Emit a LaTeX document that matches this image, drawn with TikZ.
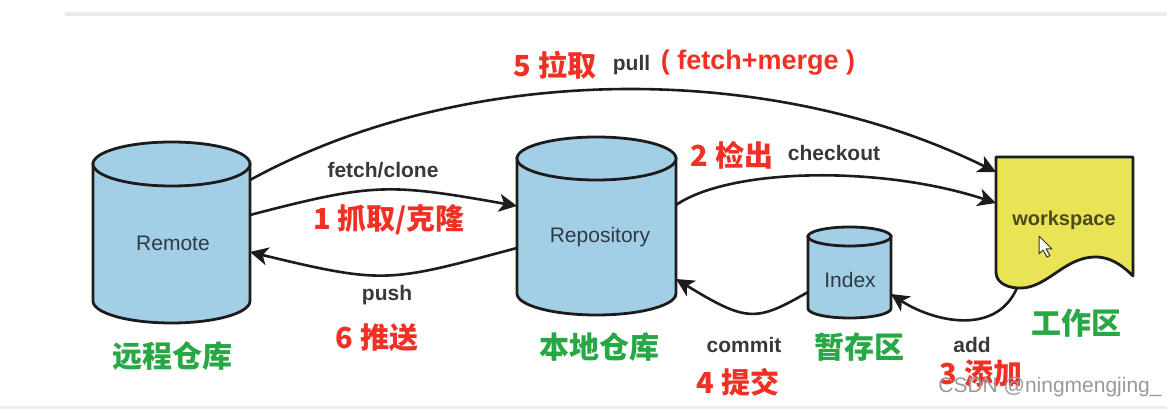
\documentclass[tikz,border=0pt]{standalone}
\usepackage{fontspec}
\setmainfont{Liberation Sans}
\newfontfamily\cjk{Noto Sans CJK SC}
\newfontfamily\arialf{Liberation Sans}
\usetikzlibrary{arrows.meta}
\definecolor{cylblue}{HTML}{A3CFE6}
\definecolor{lineblack}{HTML}{1C1C1C}
\definecolor{lblred}{HTML}{EE3124}
\definecolor{lblgreen}{HTML}{27A844}
\definecolor{opgray}{HTML}{383838}
\definecolor{boxtext}{HTML}{2E3A45}
\definecolor{wsyellow}{HTML}{E9E455}
\definecolor{wstext}{HTML}{4B4A1E}
\newcommand\dbcyl[5]{%
  \filldraw[cylstyle] (#1-#2,#3) -- (#1-#2,#4) arc[start angle=180,end angle=0,x radius=#2,y radius=#5] -- (#1+#2,#3) -- cycle;
  \filldraw[cylstyle] (#1,#3) ellipse[x radius=#2,y radius=#5];}
\tikzset{
  cylstyle/.style={fill=cylblue, draw=lineblack, line width=1.4pt},
  anchorbox/.style={inner sep=0pt, outer sep=0pt},
  conn/.style={draw=lineblack, line width=1.3pt, -{Stealth[length=9pt,width=9pt,inset=2.5pt]}},
  redlbl/.style={text=lblred, font=\cjk\bfseries\fontsize{14.5}{16}\selectfont},
  greenlbl/.style={text=lblgreen, font=\cjk\bfseries\fontsize{15}{17}\selectfont},
  oplbl/.style={text=opgray, font=\arialf\bfseries\fontsize{10.5}{12}\selectfont},
  boxlbl/.style={text=boxtext, font=\arialf\fontsize{10.5}{12}\selectfont},
}
\begin{document}
\begin{tikzpicture}[x=0.5pt,y=-0.5pt]
\useasboundingbox (0,0) rectangle (1167,410);
% screenshot frame lines
\draw[draw=black!8, line width=2pt] (65,14) -- (1167,14);
\draw[draw=black!7, line width=1.5pt] (0,408) -- (1167,408);

% anchor boxes
\node[anchorbox, minimum width=78.5pt, minimum height=90.5pt] (remote) at (171.5,232.5) {};
\node[anchorbox, minimum width=79.5pt, minimum height=89.5pt] (repo) at (596.5,226.5) {};
\node[anchorbox, minimum width=41.5pt, minimum height=45.5pt] (index) at (849.5,272.5) {};
\node[anchorbox, minimum width=68.5pt, minimum height=65.5pt] (ws) at (1064.5,222.5) {};

% cylinders
\dbcyl{171.5}{78.5}{164}{301}{22}
\dbcyl{596.5}{79.5}{158.5}{293.5}{21.5}
\dbcyl{849.5}{41.5}{236.5}{308.5}{9.5}

% workspace document
\filldraw[fill=wsyellow, draw=lineblack, line width=1.4pt, line join=round]
  (996,157) -- (1133,157) -- (1133,276)
  .. controls (1115,258) and (1100,254) .. (1082,259)
  .. controls (1058,266) and (1042,290) .. (1017,288)
  .. controls (1004,287) and (996,281) .. (996,272) -- cycle;
% mouse cursor
\filldraw[fill=white, draw=black!80, line width=0.5pt, line join=round]
  (1039,236) -- (1039,254) -- (1043,250) -- (1047,257) -- (1050,255.5) -- (1046,249) -- (1052,249) -- cycle;

% box texts
\node[boxlbl] (remotetxt) at (173,243) {Remote};
\node[boxlbl] (repotxt) at (600,237) {Repository};
\node[boxlbl] (indextxt) at (850,280) {Index};
\node[text=wstext, font=\arialf\bfseries\fontsize{10}{12}\selectfont] (wstxt) at (1064,220) {workspace};

% connectors
\draw[conn] ([yshift=26.25pt]remote.east) .. controls (468,61) and (771,61) .. ([yshift=25.25pt]ws.west);
\draw[conn] ([yshift=8.75pt]remote.east) .. controls (373,183) and (388,183) .. ([yshift=10.25pt]repo.west);
\draw[conn] ([yshift=-10.75pt]repo.west) .. controls (389,282) and (386,285) .. ([yshift=-9.75pt]remote.east);
\draw[conn] ([yshift=10.75pt]repo.east) .. controls (730,168) and (880,165) .. ([yshift=9.75pt]ws.west);
\draw[conn] ([yshift=-9.75pt]index.west) .. controls (756,322) and (747,322.5) .. ([yshift=-26.25pt]repo.east);
\draw[conn] ([xshift=-23.75pt]ws.south) .. controls (995,338) and (930,320) .. ([yshift=-10.75pt]index.east);

% operation labels
\node[redlbl] (l5) at (555,65) {5 拉取};
\node[oplbl] (pulltxt) at (631.5,65) {pull};
\node[text=lblred, font=\arialf\bfseries\fontsize{13.5}{15}\selectfont] (fmtxt) at (758,63) {( fetch+merge )};
\node[oplbl] (fetchtxt) at (383,170) {fetch/clone};
\node[redlbl] (l1) at (389,220) {1 抓取/克隆};
\node[oplbl] (pushtxt) at (387,295) {push};
\node[redlbl] (l6) at (377,338) {6 推送};
\node[redlbl] (l2) at (732,155) {2 检出};
\node[oplbl] (checkouttxt) at (834,153) {checkout};
\node[oplbl] (committxt) at (744,345) {commit};
\node[redlbl] (l4) at (738,382) {4 提交};
\node[oplbl] (addtxt) at (972,345) {add};
\node[redlbl] (l3) at (981,374) {3 添加};

% area names
\node[greenlbl] (g1) at (172,356) {远程仓库};
\node[greenlbl] (g2) at (599,347) {本地仓库};
\node[greenlbl] (g3) at (859,347) {暂存区};
\node[greenlbl] (g4) at (1076,323) {工作区};

% watermark
\node[text=black!40, font=\arialf\fontsize{10.5}{12}\selectfont] (wm) at (1050,387) {CSDN @ningmengjing\_};
\end{tikzpicture}
\end{document}
